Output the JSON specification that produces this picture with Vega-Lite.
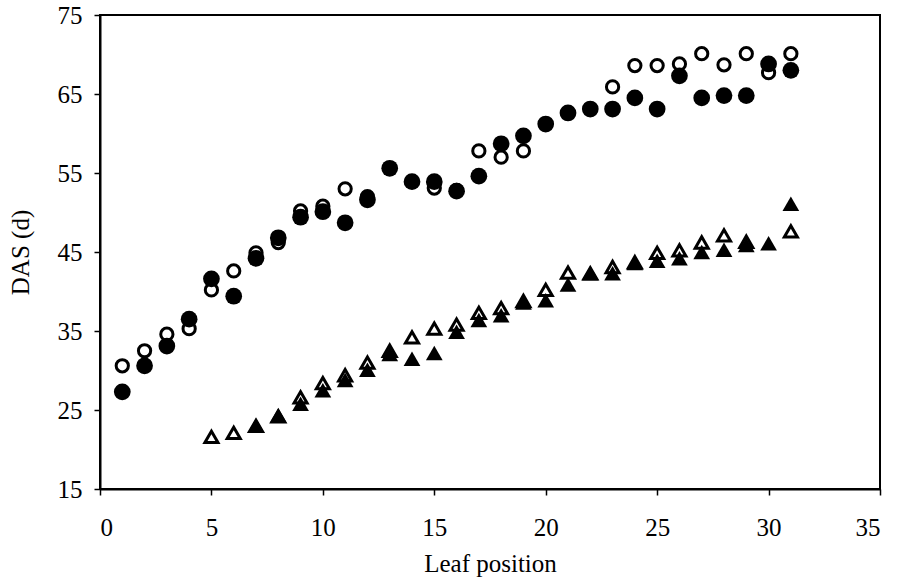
{
  "$schema": "https://vega.github.io/schema/vega-lite/v6.json",
  "width": 780,
  "height": 474,
  "autosize": "none",
  "padding": {"left": 100, "top": 15, "right": 27, "bottom": 93},
  "background": "white",
  "config": {
    "font": "Liberation Serif",
    "view": {"stroke": "black", "strokeWidth": 2},
    "axis": {
      "grid": false,
      "domainColor": "black",
      "domainWidth": 2,
      "tickColor": "black",
      "tickWidth": 1.5,
      "tickSize": 6,
      "labelColor": "black",
      "labelFont": "Liberation Serif",
      "labelFontSize": 25,
      "titleFont": "Liberation Serif",
      "titleFontSize": 25,
      "titleFontWeight": "normal",
      "titleColor": "black"
    }
  },
  "data": {
    "values": [
      {"x": 1, "das": 30.6, "series": "open_circle"},
      {"x": 2, "das": 32.5, "series": "open_circle"},
      {"x": 3, "das": 34.6, "series": "open_circle"},
      {"x": 4, "das": 35.3, "series": "open_circle"},
      {"x": 5, "das": 40.2, "series": "open_circle"},
      {"x": 6, "das": 42.6, "series": "open_circle"},
      {"x": 7, "das": 44.9, "series": "open_circle"},
      {"x": 8, "das": 46.2, "series": "open_circle"},
      {"x": 9, "das": 50.2, "series": "open_circle"},
      {"x": 10, "das": 50.8, "series": "open_circle"},
      {"x": 11, "das": 53.0, "series": "open_circle"},
      {"x": 12, "das": 52.0, "series": "open_circle"},
      {"x": 13, "das": 55.6, "series": "open_circle"},
      {"x": 14, "das": 53.9, "series": "open_circle"},
      {"x": 15, "das": 53.1, "series": "open_circle"},
      {"x": 16, "das": 52.8, "series": "open_circle"},
      {"x": 17, "das": 57.8, "series": "open_circle"},
      {"x": 18, "das": 57.0, "series": "open_circle"},
      {"x": 19, "das": 57.8, "series": "open_circle"},
      {"x": 20, "das": 61.2, "series": "open_circle"},
      {"x": 21, "das": 62.6, "series": "open_circle"},
      {"x": 22, "das": 63.1, "series": "open_circle"},
      {"x": 23, "das": 65.9, "series": "open_circle"},
      {"x": 24, "das": 68.6, "series": "open_circle"},
      {"x": 25, "das": 68.6, "series": "open_circle"},
      {"x": 26, "das": 68.8, "series": "open_circle"},
      {"x": 27, "das": 70.1, "series": "open_circle"},
      {"x": 28, "das": 68.7, "series": "open_circle"},
      {"x": 29, "das": 70.1, "series": "open_circle"},
      {"x": 30, "das": 67.7, "series": "open_circle"},
      {"x": 31, "das": 70.1, "series": "open_circle"},
      {"x": 1, "das": 27.3, "series": "filled_circle"},
      {"x": 2, "das": 30.6, "series": "filled_circle"},
      {"x": 3, "das": 33.1, "series": "filled_circle"},
      {"x": 4, "das": 36.5, "series": "filled_circle"},
      {"x": 5, "das": 41.6, "series": "filled_circle"},
      {"x": 6, "das": 39.4, "series": "filled_circle"},
      {"x": 7, "das": 44.2, "series": "filled_circle"},
      {"x": 8, "das": 46.8, "series": "filled_circle"},
      {"x": 9, "das": 49.4, "series": "filled_circle"},
      {"x": 10, "das": 50.1, "series": "filled_circle"},
      {"x": 11, "das": 48.7, "series": "filled_circle"},
      {"x": 12, "das": 51.6, "series": "filled_circle"},
      {"x": 13, "das": 55.6, "series": "filled_circle"},
      {"x": 14, "das": 53.9, "series": "filled_circle"},
      {"x": 15, "das": 53.9, "series": "filled_circle"},
      {"x": 16, "das": 52.7, "series": "filled_circle"},
      {"x": 17, "das": 54.6, "series": "filled_circle"},
      {"x": 18, "das": 58.7, "series": "filled_circle"},
      {"x": 19, "das": 59.7, "series": "filled_circle"},
      {"x": 20, "das": 61.2, "series": "filled_circle"},
      {"x": 21, "das": 62.6, "series": "filled_circle"},
      {"x": 22, "das": 63.1, "series": "filled_circle"},
      {"x": 23, "das": 63.1, "series": "filled_circle"},
      {"x": 24, "das": 64.5, "series": "filled_circle"},
      {"x": 25, "das": 63.1, "series": "filled_circle"},
      {"x": 26, "das": 67.3, "series": "filled_circle"},
      {"x": 27, "das": 64.5, "series": "filled_circle"},
      {"x": 28, "das": 64.8, "series": "filled_circle"},
      {"x": 29, "das": 64.8, "series": "filled_circle"},
      {"x": 30, "das": 68.8, "series": "filled_circle"},
      {"x": 31, "das": 68.0, "series": "filled_circle"},
      {"x": 5, "das": 21.6, "series": "open_triangle"},
      {"x": 6, "das": 22.1, "series": "open_triangle"},
      {"x": 7, "das": 23.0, "series": "open_triangle"},
      {"x": 8, "das": 24.2, "series": "open_triangle"},
      {"x": 9, "das": 26.6, "series": "open_triangle"},
      {"x": 10, "das": 28.4, "series": "open_triangle"},
      {"x": 11, "das": 29.4, "series": "open_triangle"},
      {"x": 12, "das": 31.0, "series": "open_triangle"},
      {"x": 13, "das": 32.5, "series": "open_triangle"},
      {"x": 14, "das": 34.2, "series": "open_triangle"},
      {"x": 15, "das": 35.3, "series": "open_triangle"},
      {"x": 16, "das": 35.8, "series": "open_triangle"},
      {"x": 17, "das": 37.3, "series": "open_triangle"},
      {"x": 18, "das": 37.9, "series": "open_triangle"},
      {"x": 19, "das": 38.8, "series": "open_triangle"},
      {"x": 20, "das": 40.2, "series": "open_triangle"},
      {"x": 21, "das": 42.4, "series": "open_triangle"},
      {"x": 22, "das": 42.3, "series": "open_triangle"},
      {"x": 23, "das": 43.1, "series": "open_triangle"},
      {"x": 24, "das": 43.7, "series": "open_triangle"},
      {"x": 25, "das": 44.9, "series": "open_triangle"},
      {"x": 26, "das": 45.2, "series": "open_triangle"},
      {"x": 27, "das": 46.2, "series": "open_triangle"},
      {"x": 28, "das": 47.1, "series": "open_triangle"},
      {"x": 29, "das": 46.3, "series": "open_triangle"},
      {"x": 31, "das": 47.6, "series": "open_triangle"},
      {"x": 7, "das": 23.0, "series": "filled_triangle"},
      {"x": 8, "das": 24.3, "series": "filled_triangle"},
      {"x": 9, "das": 25.8, "series": "filled_triangle"},
      {"x": 10, "das": 27.5, "series": "filled_triangle"},
      {"x": 11, "das": 28.8, "series": "filled_triangle"},
      {"x": 12, "das": 30.1, "series": "filled_triangle"},
      {"x": 13, "das": 32.1, "series": "filled_triangle"},
      {"x": 14, "das": 31.5, "series": "filled_triangle"},
      {"x": 15, "das": 32.2, "series": "filled_triangle"},
      {"x": 16, "das": 34.9, "series": "filled_triangle"},
      {"x": 17, "das": 36.4, "series": "filled_triangle"},
      {"x": 18, "das": 37.0, "series": "filled_triangle"},
      {"x": 19, "das": 38.6, "series": "filled_triangle"},
      {"x": 20, "das": 38.9, "series": "filled_triangle"},
      {"x": 21, "das": 40.9, "series": "filled_triangle"},
      {"x": 22, "das": 42.3, "series": "filled_triangle"},
      {"x": 23, "das": 42.3, "series": "filled_triangle"},
      {"x": 24, "das": 43.6, "series": "filled_triangle"},
      {"x": 25, "das": 43.9, "series": "filled_triangle"},
      {"x": 26, "das": 44.2, "series": "filled_triangle"},
      {"x": 27, "das": 45.0, "series": "filled_triangle"},
      {"x": 28, "das": 45.3, "series": "filled_triangle"},
      {"x": 29, "das": 45.9, "series": "filled_triangle"},
      {"x": 30, "das": 46.1, "series": "filled_triangle"},
      {"x": 31, "das": 51.1, "series": "filled_triangle"}
    ]
  },
  "encoding": {
    "x": {
      "field": "x",
      "type": "quantitative",
      "title": "Leaf position",
      "scale": {"domain": [0, 35], "nice": false},
      "axis": {"values": [0, 5, 10, 15, 20, 25, 30, 35], "labelFont": "Liberation Serif", "labelFontSize": 25, "titleFont": "Liberation Serif", "labelPadding": 20, "titleY": 74, "titleBaseline": "middle"}
    },
    "y": {
      "field": "das",
      "type": "quantitative",
      "title": "DAS (d)",
      "scale": {"domain": [15, 75], "nice": false, "zero": false},
      "axis": {"values": [15, 25, 35, 45, 55, 65, 75], "labelFont": "Liberation Serif", "labelFontSize": 25, "titleFont": "Liberation Serif", "labelPadding": 12, "titleX": -80, "titleBaseline": "middle"}
    }
  },
  "layer": [
    {
      "transform": [{"filter": "datum.series === 'open_circle'"}],
      "mark": {"type": "point", "shape": "circle", "filled": true, "fill": "white", "stroke": "black", "strokeWidth": 3, "size": 150, "opacity": 1}
    },
    {
      "transform": [{"filter": "datum.series === 'filled_circle'"}],
      "mark": {"type": "point", "shape": "circle", "filled": true, "fill": "black", "stroke": "black", "strokeWidth": 0, "size": 280, "opacity": 1}
    },
    {
      "transform": [{"filter": "datum.series === 'open_triangle'"}],
      "mark": {"type": "point", "shape": "triangle-up", "filled": true, "fill": "white", "stroke": "black", "strokeWidth": 3, "size": 170, "opacity": 1}
    },
    {
      "transform": [{"filter": "datum.series === 'filled_triangle'"}],
      "mark": {"type": "point", "shape": "triangle-up", "filled": true, "fill": "black", "stroke": "black", "strokeWidth": 0, "size": 280, "opacity": 1}
    }
  ]
}
